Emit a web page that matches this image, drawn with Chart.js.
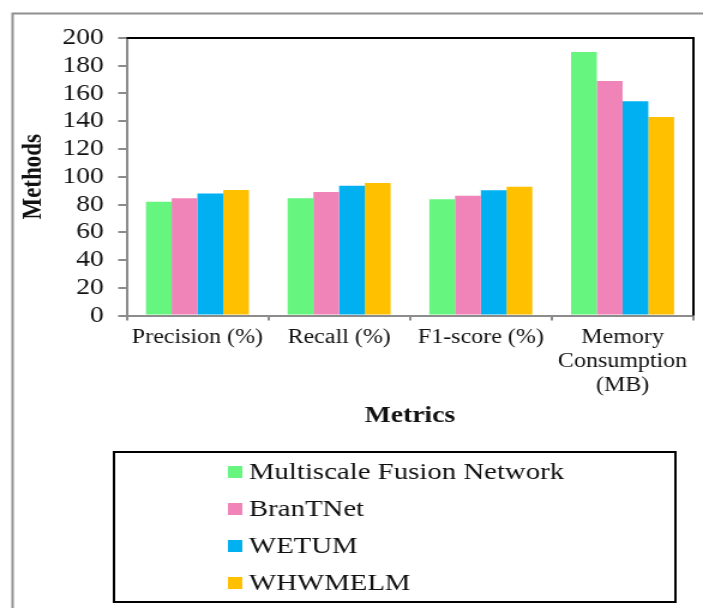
<!DOCTYPE html>
<html>
<head>
<meta charset="utf-8">
<script src="https://cdn.jsdelivr.net/npm/chart.js@4"></script>
<style>
  html, body { margin: 0; padding: 0; background: #fff; }
  canvas { display: block; }
</style>
</head>
<body>
<!-- drawn at 586 px wide, shown 703 px wide (the figure is set slightly wide) -->
<canvas id="chart" width="586" height="608" style="width:703px;height:608px"></canvas>
<script>
const categories = ['Precision (%)', 'Recall (%)', 'F1-score (%)', ['Memory', 'Consumption', '(MB)']];
const seriesNames = ['Multiscale Fusion Network', 'BranTNet', 'WETUM', 'WHWMELM'];
const multiscaleFusion = [82, 84.5, 83.7, 190];
const branTNet = [84.5, 89, 86.3, 169];
const wetum = [88, 93.5, 90.2, 154.5];
const whwmelm = [90.5, 95.5, 92.8, 143];
const yTicks = { min: 0, max: 200, step: 20 };

const SERIF = "'Liberation Serif', 'Times New Roman', serif";
const TEXT = '#111';
const AXIS_GREY = '#8c8c8c';
const colours = ['#66F57F', '#F083B8', '#00B0F0', '#FFC000'];
const seriesValues = [multiscaleFusion, branTNet, wetum, whwmelm];

// white page with the grey frame on the top and left
const framePlugin = {
  id: 'frame',
  beforeDraw(chart) {
    const { ctx, width, height } = chart;
    ctx.save();
    ctx.fillStyle = '#fff';
    ctx.fillRect(0, 0, width, height);
    ctx.strokeStyle = '#8f8f8f';
    ctx.lineWidth = 2;
    ctx.beginPath();
    ctx.moveTo(10.5, height);
    ctx.lineTo(10.5, 13.5);
    ctx.lineTo(width, 13.5);
    ctx.stroke();
    ctx.restore();
  }
};

// black top and right edges of the plot area
const plotEdgePlugin = {
  id: 'plotEdge',
  afterDraw(chart) {
    const { ctx, chartArea: a } = chart;
    ctx.save();
    ctx.strokeStyle = '#000';
    ctx.lineWidth = 2;
    ctx.beginPath();
    ctx.moveTo(a.left, a.top);
    ctx.lineTo(a.right, a.top);
    ctx.lineTo(a.right, a.bottom);
    ctx.stroke();
    ctx.restore();
  }
};

// boxed legend, one series per row
const boxLegendPlugin = {
  id: 'boxLegend',
  afterDraw(chart, args, opts) {
    const { ctx } = chart;
    ctx.save();
    ctx.strokeStyle = '#000';
    ctx.lineWidth = 2;
    ctx.strokeRect(opts.x, opts.y, opts.w, opts.h);
    ctx.font = `${opts.fontSize}px ${SERIF}`;
    ctx.textBaseline = 'middle';
    ctx.textAlign = 'left';
    chart.data.datasets.forEach((ds, i) => {
      const cy = opts.firstRow + i * opts.rowStep;
      ctx.fillStyle = ds.backgroundColor;
      ctx.fillRect(opts.boxX, cy - opts.box / 2, opts.box, opts.box);
      ctx.fillStyle = TEXT;
      ctx.fillText(ds.label, opts.textX, cy + 1);
    });
    ctx.restore();
  }
};

new Chart(document.getElementById('chart'), {
  type: 'bar',
  data: {
    labels: categories,
    datasets: seriesNames.map((name, i) => ({
      label: name,
      data: seriesValues[i],
      backgroundColor: colours[i],
      borderWidth: 0,
      barPercentage: 1,
      categoryPercentage: 0.727
    }))
  },
  options: {
    responsive: false,
    devicePixelRatio: 1,
    animation: false,
    layout: { padding: { left: 10, right: 8, top: 38, bottom: 167.5 } },
    plugins: {
      legend: { display: false },
      tooltip: { enabled: false },
      boxLegend: {
        x: 95, y: 452, w: 468, h: 150,
        boxX: 190, box: 12, textX: 207.5,
        firstRow: 472, rowStep: 37, fontSize: 24
      }
    },
    scales: {
      x: {
        ticks: { color: TEXT, font: { family: SERIF, size: 20 }, padding: 5.5, maxRotation: 0, autoSkip: false },
        grid: { drawOnChartArea: false, drawTicks: true, tickLength: 5, color: AXIS_GREY, lineWidth: 2, offset: true },
        border: { display: true, color: AXIS_GREY, width: 2 },
        title: {
          display: true, text: 'Metrics', color: TEXT,
          font: { family: SERIF, size: 23, weight: 'bold' },
          padding: { top: 0, bottom: 10.7 }
        },
        afterFit(scale) { scale.height = 125; }
      },
      y: {
        min: yTicks.min,
        max: yTicks.max,
        ticks: { stepSize: yTicks.step, autoSkip: false, color: TEXT, font: { family: SERIF, size: 23 }, padding: 12 },
        grid: { drawOnChartArea: false, drawTicks: true, tickLength: 7, color: AXIS_GREY, lineWidth: 2 },
        border: { display: true, color: AXIS_GREY, width: 2 },
        title: {
          display: true, text: 'Methods', color: TEXT,
          font: { family: SERIF, size: 23, weight: 'bold' },
          padding: { top: 4.5, bottom: 0 }
        },
        afterFit(scale) { scale.width = 95.5; }
      }
    }
  },
  plugins: [framePlugin, plotEdgePlugin, boxLegendPlugin]
});
</script>
</body>
</html>
